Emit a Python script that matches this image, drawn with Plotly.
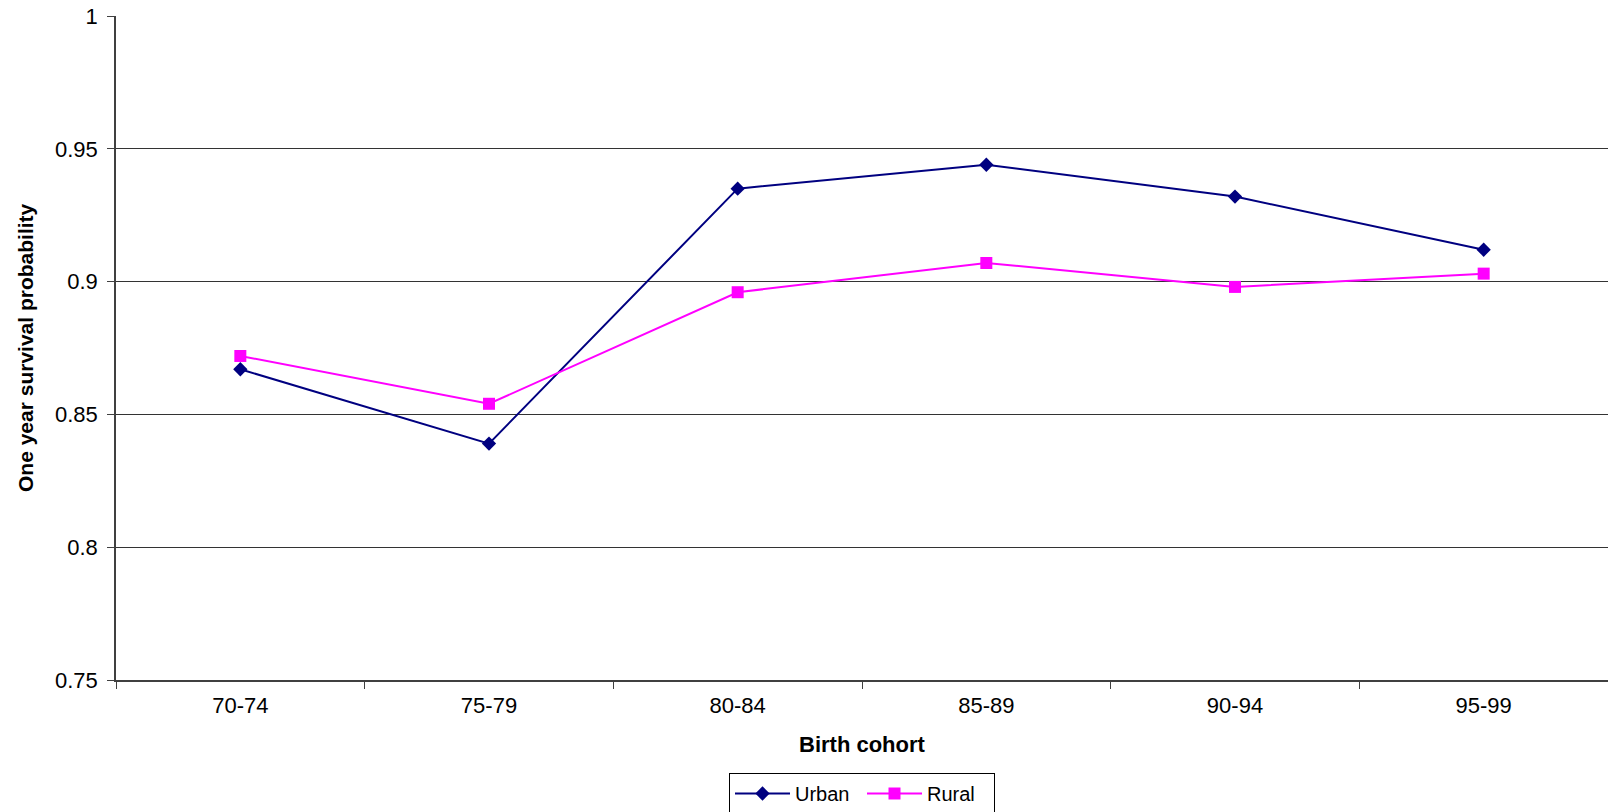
import plotly.graph_objects as go

cohorts = ["70-74", "75-79", "80-84", "85-89", "90-94", "95-99"]
urban = [0.867, 0.839, 0.935, 0.944, 0.932, 0.912]
rural = [0.872, 0.854, 0.896, 0.907, 0.898, 0.903]

FONT = "Liberation Sans, Arial, sans-serif"

fig = go.Figure()
fig.add_trace(go.Scatter(
    x=cohorts, y=urban, name="Urban", mode="lines+markers",
    line=dict(color="#000080", width=2),
    marker=dict(symbol="diamond", size=11, color="#000080"),
))
fig.add_trace(go.Scatter(
    x=cohorts, y=rural, name="Rural", mode="lines+markers",
    line=dict(color="#FF00FF", width=2),
    marker=dict(symbol="square", size=12, color="#FF00FF"),
))

fig.update_layout(
    width=1608, height=812,
    margin=dict(l=116, r=0, t=16, b=132, autoexpand=False),
    paper_bgcolor="white", plot_bgcolor="white",
    font=dict(family=FONT, size=22, color="black"),
    showlegend=True,
    legend=dict(
        orientation="h", x=0.5, xanchor="center", y=-(773 - 680) / 664, yanchor="top",
        bordercolor="black", borderwidth=1, font=dict(size=20),
        itemwidth=55, tracegroupgap=0, entrywidth=62,
    ),
    xaxis=dict(
        type="category", range=[-0.5, 5.5],
        showline=True, linecolor="#404040", linewidth=1.5,
        ticks="outside", tickson="boundaries", ticklen=7, tickcolor="#404040",
        showgrid=False, zeroline=False, ticklabelstandoff=5,
    ),
    yaxis=dict(
        range=[0.75, 1], dtick=0.05, tick0=0.75,
        showline=True, linecolor="#404040", linewidth=1.5,
        ticks="outside", ticklen=7, tickcolor="#404040",
        showgrid=True, gridcolor="#333333", gridwidth=1, zeroline=False,
        ticklabelstandoff=5,
    ),
    annotations=[
        dict(text="<b>Birth cohort</b>", xref="paper", yref="paper",
             x=0.5, y=-(744 - 680) / 664, xanchor="center", yanchor="middle",
             showarrow=False, font=dict(size=22)),
        dict(text="<b>One year survival probability</b>", xref="paper", yref="paper",
             x=-(116 - 25) / 1492, y=0.5, xanchor="center", yanchor="middle",
             textangle=-90, showarrow=False, font=dict(size=21)),
    ],
)

fig.write_html(
    "out.html",
    config={"displayModeBar": False},
    post_script="document.body.style.margin='0';document.body.style.overflow='hidden';",
)
